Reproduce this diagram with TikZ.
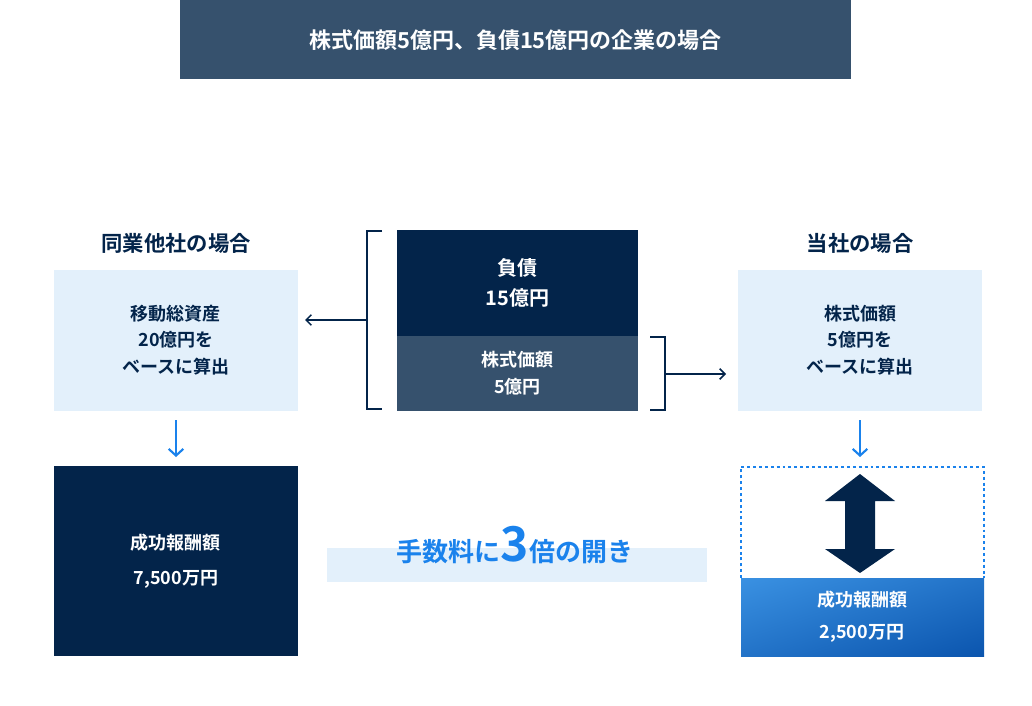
\documentclass[tikz,border=0pt]{standalone}
\usepackage{fontspec}
\setmainfont{Noto Sans CJK JP}[BoldFont={Noto Sans CJK JP Bold}]
\usetikzlibrary{arrows.meta,shadings}
\definecolor{navy}{HTML}{03244A}
\definecolor{slate}{HTML}{36516D}
\definecolor{pale}{HTML}{E3F0FB}
\definecolor{blu}{HTML}{1A82EC}
\definecolor{gA}{HTML}{3A91E2}
\definecolor{gB}{HTML}{0B55AE}
\colorlet{gM}{gA!50!gB}
\begin{document}
\begin{tikzpicture}[x=0.75pt,y=-0.75pt,
  txt/.style={align=center,font=\bfseries\fontsize{13.5}{20}\selectfont},
  wtxt/.style={txt,text=white},
  dtxt/.style={txt,text=navy},
  head/.style={font=\bfseries\fontsize{16}{20}\selectfont,text=navy},
  conn/.style={draw=navy,line width=1.1pt},
  bluearr/.style={draw=blu,line width=1.6pt,-{Straight Barb[length=5pt,width=11pt]}}]
\useasboundingbox (0,0) rectangle (1032,706);
\fill[slate] (180,0) rectangle (851,79);
\node[wtxt,font=\bfseries\fontsize{16.5}{20}\selectfont] (title) at (515.5,40) {株式価額5億円、負債15億円の企業の場合};
% left
\node[head] (lh) at (176,243) {同業他社の場合};
\fill[pale] (54,270) rectangle (298,411);
\node[dtxt,text width=200pt] (lb) at (176,340) {移動総資産\\20億円を\\ベースに算出};
\coordinate (la1) at (176,420); \coordinate (la2) at (176,457);
\draw[bluearr] (la1) -- (la2);
\fill[navy] (54,466) rectangle (298,656);
\node[wtxt,text width=200pt,font=\bfseries\fontsize{13.5}{26}\selectfont] (lfee) at (176,561) {成功報酬額\\7,500万円};
% middle
\fill[navy] (397,230) rectangle (638,336);
\fill[slate] (397,336) rectangle (638,411);
\node[wtxt,font=\bfseries\fontsize{15}{23}\selectfont] (debt) at (517.5,283) {負債\\15億円};
\node[wtxt] (eq) at (517.5,373) {株式価額\\5億円};
\draw[conn] (382,231) -- (367,231) -- (367,409) -- (382,409);
\draw[conn] (650,337) -- (665,337) -- (665,410) -- (650,410);
\coordinate (lbr) at (367,320); \coordinate (lbe) at (305,320);
\coordinate (rbr) at (665,374); \coordinate (rbe) at (726,374);
\draw[conn,-{Straight Barb[length=4pt,width=8pt]}] (lbr) -- (lbe);
\draw[conn,-{Straight Barb[length=4pt,width=8pt]}] (rbr) -- (rbe);
\fill[pale] (327,548) rectangle (707,582);
\node[text=blu,font=\bfseries\fontsize{19.5}{22}\selectfont,anchor=base] (gap) at (515,561) {手数料に{\fontsize{36}{36}\selectfont 3}倍の開き};
% right
\node[head] (rh) at (860,243) {当社の場合};
\fill[pale] (738,270) rectangle (982,411);
\node[dtxt,text width=200pt] (rb) at (860,340) {株式価額\\5億円を\\ベースに算出};
\coordinate (ra1) at (860,420); \coordinate (ra2) at (860,457);
\draw[bluearr] (ra1) -- (ra2);
\draw[blu,line width=1.2pt,dash pattern=on 2.2pt off 2.2pt] (741,578) -- (741,467) -- (984,467) -- (984,578);
\fill[navy] (860,474) -- (895,501) -- (875,501) -- (875,549) -- (895,549) -- (860,573) -- (825,549) -- (845,549) -- (845,501) -- (825,501) -- cycle;
\shade[upper left=gA,upper right=gM,lower left=gM,lower right=gB] (741,578) rectangle (984,656);
\node[wtxt,font=\bfseries\fontsize{13.5}{24}\selectfont] (rfee) at (862,617) {成功報酬額\\2,500万円};
\end{tikzpicture}
\end{document}
